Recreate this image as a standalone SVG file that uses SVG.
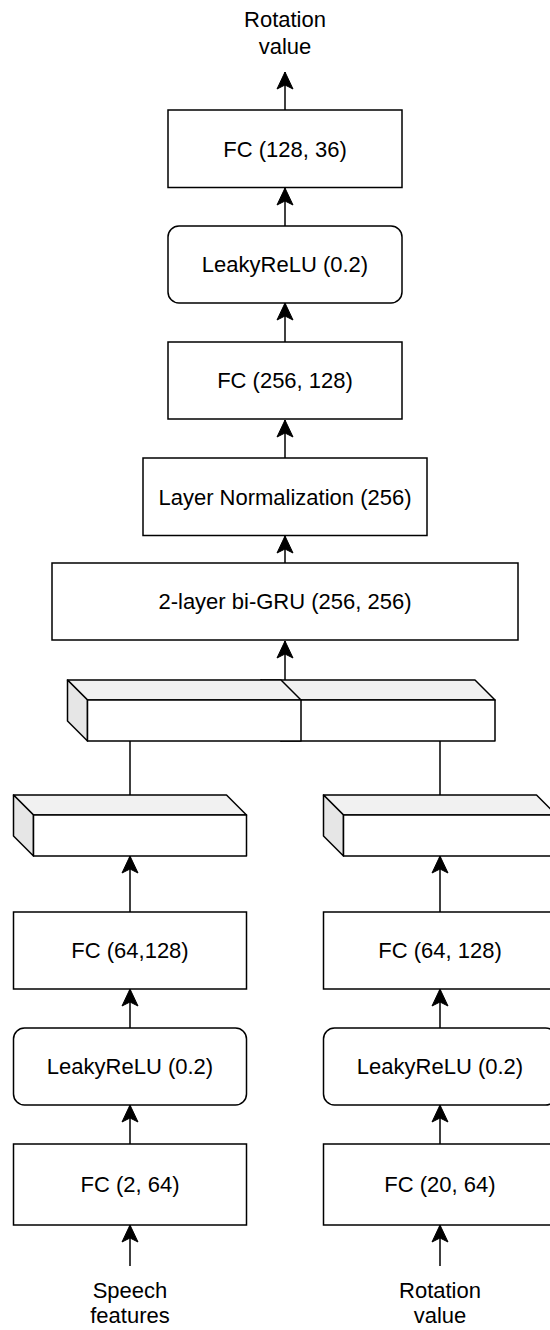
<svg xmlns="http://www.w3.org/2000/svg" width="550" height="1330" viewBox="0 0 550 1330">
<style>
.box{fill:#fff;stroke:#000;stroke-width:1.5}
.lbl{font-family:"Liberation Sans",Arial,sans-serif;font-size:22px;fill:#000;text-anchor:middle}
.edge{fill:none;stroke:#000;stroke-width:1.5}
.front{fill:#fff;stroke:#000;stroke-width:1.5;stroke-linejoin:round}
.top{fill:#f1f1f1;stroke:#000;stroke-width:1.5;stroke-linejoin:round}
.side{fill:#e6e6e6;stroke:#000;stroke-width:1.5;stroke-linejoin:round}
</style>
<defs>
<marker id="a" markerUnits="userSpaceOnUse" markerWidth="24" markerHeight="24" viewBox="-20 -12 24 24" refX="0" refY="0" orient="auto">
<path d="M0,0 L-17,-8 L-13,0 L-17,8 Z" fill="#000" stroke="#000" stroke-width="1" stroke-linejoin="miter"/>
</marker>
</defs>

<g id="connectors">
<line class="edge" x1="285" y1="110" x2="285" y2="72" marker-end="url(#a)"/>
<line class="edge" x1="285" y1="226" x2="285" y2="188" marker-end="url(#a)"/>
<line class="edge" x1="285" y1="342" x2="285" y2="303" marker-end="url(#a)"/>
<line class="edge" x1="285" y1="458" x2="285" y2="420" marker-end="url(#a)"/>
<line class="edge" x1="285" y1="563" x2="285" y2="536" marker-end="url(#a)"/>
<line class="edge" x1="285" y1="680" x2="285" y2="641" marker-end="url(#a)"/>
<line class="edge" x1="130" y1="741" x2="130" y2="795"/>
<line class="edge" x1="440" y1="741" x2="440" y2="795"/>
<line class="edge" x1="130" y1="912" x2="130" y2="856" marker-end="url(#a)"/>
<line class="edge" x1="440" y1="912" x2="440" y2="856" marker-end="url(#a)"/>
<line class="edge" x1="130" y1="1028" x2="130" y2="989" marker-end="url(#a)"/>
<line class="edge" x1="440" y1="1028" x2="440" y2="989" marker-end="url(#a)"/>
<line class="edge" x1="130" y1="1144" x2="130" y2="1105" marker-end="url(#a)"/>
<line class="edge" x1="440" y1="1144" x2="440" y2="1105" marker-end="url(#a)"/>
<line class="edge" x1="130" y1="1266" x2="130" y2="1225" marker-end="url(#a)"/>
<line class="edge" x1="440" y1="1266" x2="440" y2="1225" marker-end="url(#a)"/>
</g>

<g id="out-label">
<text class="lbl" x="285" y="27">Rotation</text>
<text class="lbl" x="285" y="53.5">value</text>
</g>

<g id="fc-128-36">
<rect class="box" x="168" y="110" width="234" height="77.5"/>
<text class="lbl" x="285" y="156.5">FC (128, 36)</text>
</g>
<g id="leaky-top">
<rect class="box" x="168" y="226" width="234" height="77" rx="11" ry="11"/>
<text class="lbl" x="285" y="272">LeakyReLU (0.2)</text>
</g>
<g id="fc-256-128">
<rect class="box" x="168" y="342" width="234" height="77"/>
<text class="lbl" x="285" y="388">FC (256, 128)</text>
</g>
<g id="layernorm">
<rect class="box" x="143" y="458" width="284" height="77.5"/>
<text class="lbl" x="285" y="504.5">Layer Normalization (256)</text>
</g>
<g id="bigru">
<rect class="box" x="52" y="563" width="466" height="77"/>
<text class="lbl" x="285" y="609">2-layer bi-GRU (256, 256)</text>
</g>

<g id="concat-right">
<path class="top" d="M261,680 L475,680 L495,700 L281,700 Z"/>
<path class="side" d="M261,680 L281,700 L281,741 L261,721 Z"/>
<rect class="front" x="281" y="700" width="214" height="41"/>
</g>
<g id="concat-left">
<path class="top" d="M67.5,680 L281,680 L301,700 L87.5,700 Z"/>
<path class="side" d="M67.5,680 L87.5,700 L87.5,741 L67.5,721 Z"/>
<rect class="front" x="87.5" y="700" width="213.5" height="41"/>
</g>

<g id="cube-left">
<path class="top" d="M13.5,795 L226.5,795 L246.5,815 L33.5,815 Z"/>
<path class="side" d="M13.5,795 L33.5,815 L33.5,856 L13.5,836 Z"/>
<rect class="front" x="33.5" y="815" width="213" height="41"/>
</g>
<g id="cube-right">
<path class="top" d="M323.5,795 L536.5,795 L556.5,815 L343.5,815 Z"/>
<path class="side" d="M323.5,795 L343.5,815 L343.5,856 L323.5,836 Z"/>
<rect class="front" x="343.5" y="815" width="213" height="41"/>
</g>

<g id="fc-64-128-l">
<rect class="box" x="13.5" y="912" width="233" height="77"/>
<text class="lbl" x="130" y="958">FC (64,128)</text>
</g>
<g id="fc-64-128-r">
<rect class="box" x="323.5" y="912" width="233" height="77"/>
<text class="lbl" x="440" y="958">FC (64, 128)</text>
</g>
<g id="leaky-l">
<rect class="box" x="13.5" y="1028" width="233" height="77" rx="11" ry="11"/>
<text class="lbl" x="130" y="1074">LeakyReLU (0.2)</text>
</g>
<g id="leaky-r">
<rect class="box" x="323.5" y="1028" width="233" height="77" rx="11" ry="11"/>
<text class="lbl" x="440" y="1074">LeakyReLU (0.2)</text>
</g>
<g id="fc-2-64">
<rect class="box" x="13.5" y="1144" width="233" height="81"/>
<text class="lbl" x="130" y="1192">FC (2, 64)</text>
</g>
<g id="fc-20-64">
<rect class="box" x="323.5" y="1144" width="233" height="81"/>
<text class="lbl" x="440" y="1192">FC (20, 64)</text>
</g>

<g id="in-speech">
<text class="lbl" x="130" y="1298">Speech</text>
<text class="lbl" x="130" y="1323">features</text>
</g>
<g id="in-rotation">
<text class="lbl" x="440" y="1298">Rotation</text>
<text class="lbl" x="440" y="1323">value</text>
</g>
</svg>
